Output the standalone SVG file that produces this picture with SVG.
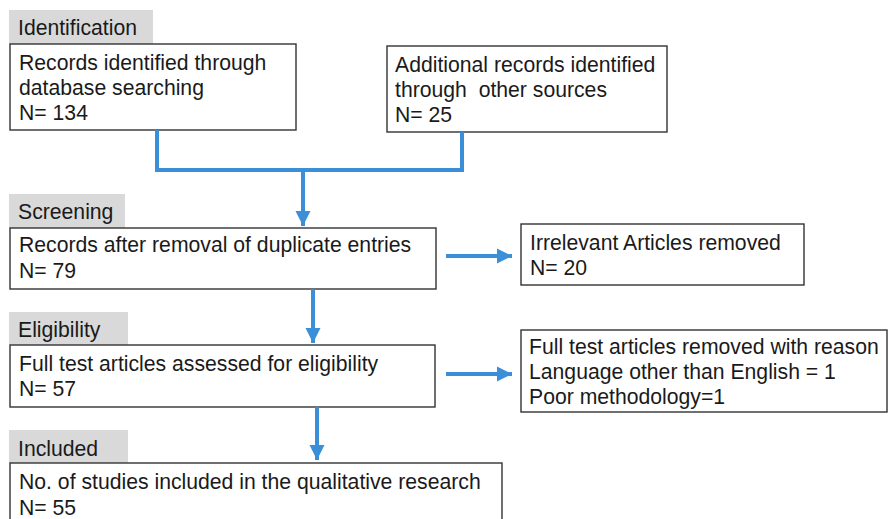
<svg xmlns="http://www.w3.org/2000/svg" width="888" height="519" viewBox="0 0 888 519">
<style>
text{font-family:"Liberation Sans",Arial,sans-serif;font-size:21.2px;fill:#1a1a1a;white-space:pre}
.lab{fill:#d9d9d9;stroke:none}
.box{fill:#fff;stroke:#333;stroke-width:1.4}
.con{fill:none;stroke:#3b8fd9;stroke-width:4;stroke-linejoin:miter}
</style>
<defs>
<marker id="ah" markerUnits="userSpaceOnUse" markerWidth="18" markerHeight="18" viewBox="0 0 18 18" refX="15" refY="9" orient="auto">
<path d="M0,1.5 L15,9 L0,16.5 Z" fill="#3b8fd9"/>
</marker>
</defs>
<rect width="888" height="519" fill="#fff"/>
<g id="label-identification"><rect class="lab" x="9" y="10" width="144" height="34"/><text x="18" y="35">Identification</text></g>
<g id="node-db"><rect class="box" x="10" y="44" width="286" height="86"/><text x="19" y="70">Records identified through</text><text x="19" y="95">database searching</text><text x="19" y="120">N= 134</text></g>
<g id="node-other"><rect class="box" x="387" y="46" width="280" height="86"/><text x="395" y="72">Additional records identified</text><text x="395" y="97" xml:space="preserve">through  other sources</text><text x="395" y="122">N= 25</text></g>
<g id="label-screening"><rect class="lab" x="9" y="194" width="116" height="34"/><text x="18" y="219">Screening</text></g>
<g id="node-dup"><rect class="box" x="10" y="228" width="426" height="61"/><text x="19" y="252">Records after removal of duplicate entries</text><text x="19" y="278">N= 79</text></g>
<g id="node-irrelevant"><rect class="box" x="521" y="224" width="283" height="61"/><text x="530" y="250">Irrelevant Articles removed</text><text x="530" y="275">N= 20</text></g>
<g id="label-eligibility"><rect class="lab" x="9" y="312" width="119" height="33"/><text x="18" y="337">Eligibility</text></g>
<g id="node-fulltext"><rect class="box" x="10" y="345" width="425" height="62"/><text x="19" y="371">Full test articles assessed for eligibility</text><text x="19" y="396">N= 57</text></g>
<g id="node-removed"><rect class="box" x="521" y="330" width="366" height="82"/><text x="529" y="354">Full test articles removed with reason</text><text x="529" y="379">Language other than English = 1</text><text x="529" y="404">Poor methodology=1</text></g>
<g id="label-included"><rect class="lab" x="9" y="430" width="119" height="33"/><text x="18" y="456">Included</text></g>
<g id="node-included"><rect class="box" x="10" y="463" width="492" height="60"/><text x="19" y="489">No. of studies included in the qualitative research</text><text x="19" y="515">N= 55</text></g>
<g id="connectors">
<path class="con" d="M157,130 V170 H462 V132"/>
<path class="con" d="M303,170 V226" marker-end="url(#ah)"/>
<path class="con" d="M313,289 V343" marker-end="url(#ah)"/>
<path class="con" d="M317,407 V460" marker-end="url(#ah)"/>
<path class="con" d="M446,256 H512" marker-end="url(#ah)"/>
<path class="con" d="M446,374 H512" marker-end="url(#ah)"/>
</g>
</svg>
